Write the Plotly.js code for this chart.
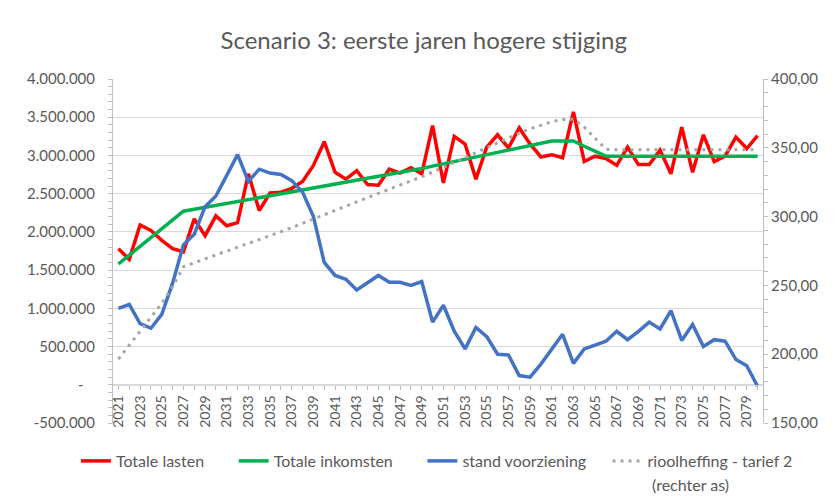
<!DOCTYPE html>
<html>
<head>
<meta charset="utf-8">
<script src="https://cdn.plot.ly/plotly-3.0.1.min.js"></script>
<style>html,body{margin:0;padding:0;background:#fff;}#chart{width:834px;height:504px;}</style>
</head>
<body>
<div id="chart"></div>
<script>
const years = [2021,2022,2023,2024,2025,2026,2027,2028,2029,2030,
  2031,2032,2033,2034,2035,2036,2037,2038,2039,2040,
  2041,2042,2043,2044,2045,2046,2047,2048,2049,2050,
  2051,2052,2053,2054,2055,2056,2057,2058,2059,2060,
  2061,2062,2063,2064,2065,2066,2067,2068,2069,2070,
  2071,2072,2073,2074,2075,2076,2077,2078,2079,2080];

const totaleLasten = [1780000,1640000,2090000,2020000,1890000,1780000,1740000,2170000,1950000,2210000,
  2080000,2120000,2760000,2280000,2510000,2520000,2570000,2660000,2870000,3180000,
  2780000,2690000,2800000,2620000,2610000,2820000,2770000,2840000,2760000,3390000,
  2640000,3250000,3150000,2690000,3110000,3270000,3100000,3360000,3150000,2980000,
  3010000,2970000,3570000,2920000,2990000,2960000,2870000,3110000,2880000,2880000,
  3070000,2760000,3370000,2780000,3270000,2920000,2990000,3240000,3090000,3260000];

const totaleInkomsten = [1580000,1695000,1810000,1925000,2040000,2155000,2270000,2295000,2320000,2345000,
  2370000,2395000,2420000,2445000,2470000,2495000,2520000,2545000,2570000,2595000,
  2620000,2645000,2670000,2695000,2720000,2745000,2770000,2800000,2830000,2860000,
  2890000,2920000,2950000,2980000,3010000,3040000,3070000,3100000,3130000,3160000,
  3190000,3190000,3190000,3120000,3050000,2990000,2990000,2990000,2990000,2990000,
  2990000,2990000,2990000,2990000,2990000,2990000,2990000,2990000,2990000,2990000];

const standVoorziening = [1000000,1050000,800000,740000,920000,1330000,1830000,1970000,2330000,2470000,
  2740000,3010000,2660000,2820000,2770000,2750000,2670000,2520000,2200000,1600000,
  1430000,1380000,1240000,1330000,1430000,1340000,1340000,1300000,1350000,820000,
  1040000,700000,470000,750000,630000,400000,390000,120000,100000,270000,
  460000,660000,280000,470000,520000,570000,700000,590000,700000,820000,
  730000,970000,580000,790000,500000,590000,570000,330000,250000,-20000];

const rioolheffing = [196.4,206.5,216.5,226.5,237.0,249.0,263.5,266.5,269.3,272.0,
  274.8,277.5,280.3,283.0,286.0,289.0,292.0,295.2,298.3,301.4,
  304.5,307.6,310.7,313.8,317.0,320.0,323.0,326.0,329.0,332.2,
  335.8,339.4,343.0,346.6,350.2,353.8,357.2,360.6,363.8,366.6,
  369.0,370.5,370.8,365.0,357.0,349.0,348.5,348.5,348.5,348.5,
  348.5,348.5,348.5,348.5,348.5,348.5,348.5,348.5,348.5,348.5];

const xTickVals = [2021,2023,2025,2027,2029,2031,2033,2035,2037,2039,2041,2043,2045,2047,2049,
  2051,2053,2055,2057,2059,2061,2063,2065,2067,2069,2071,2073,2075,2077,2079];
const leftTickVals = [-500000,0,500000,1000000,1500000,2000000,2500000,3000000,3500000,4000000];
const leftTickText = ['-500.000','-\u00a0\u00a0\u00a0','500.000','1.000.000','1.500.000','2.000.000','2.500.000','3.000.000','3.500.000','4.000.000'];
const rightTickVals = [150,200,250,300,350,400];
const rightTickText = ['150,00','200,00','250,00','300,00','350,00','400,00'];

const seriesNames = ['Totale lasten', 'Totale inkomsten', 'stand voorziening', 'rioolheffing - tarief 2'];
const legendNote = '(rechter as)';

const FONT = 'Lato, "Open Sans", sans-serif';
const TXT = '#595959';
const PAD = n => '\u00a0'.repeat(n);

const traces = [
  {x: years, y: totaleLasten, name: seriesNames[0] + PAD(6), type: 'scatter', mode: 'lines',
   line: {color: '#FF0000', width: 3.5}},
  {x: years, y: totaleInkomsten, name: seriesNames[1] + PAD(6), type: 'scatter', mode: 'lines',
   line: {color: '#00B050', width: 3.5}},
  {x: years, y: standVoorziening, name: seriesNames[2] + PAD(4), type: 'scatter', mode: 'lines',
   line: {color: '#4472C4', width: 3.5}},
  {x: years, y: rioolheffing, name: seriesNames[3], type: 'scatter', mode: 'lines',
   yaxis: 'y2', line: {color: '#A5A5A5', width: 3, dash: '3px,5px'}}
];

const layout = {
  width: 834, height: 504,
  margin: {l: 113, r: 71, t: 79, b: 81},
  paper_bgcolor: '#ffffff', plot_bgcolor: '#ffffff',
  font: {family: FONT, color: TXT, size: 14},
  title: {text: 'Scenario 3: eerste jaren hogere stijging', font: {family: FONT, size: 24, color: TXT},
          x: 0.508, xref: 'container', xanchor: 'center', y: 0.92, yref: 'container', yanchor: 'middle'},
  showlegend: true,
  legend: {orientation: 'h', x: -0.057, xanchor: 'left', y: -0.061, yanchor: 'top',
           font: {family: FONT, size: 16, color: TXT}, valign: 'top', bgcolor: 'rgba(0,0,0,0)'},
  annotations: [
    {text: legendNote, xref: 'paper', yref: 'paper', x: 0.826, y: -0.18, xanchor: 'left', yanchor: 'middle',
     showarrow: false, font: {family: FONT, size: 16, color: TXT}}
  ],
  xaxis: {
    type: 'linear', range: [2020.5, 2080.5], anchor: 'free', position: 0.1111,
    tickvals: xTickVals, tickangle: -90, ticks: 'outside', ticklen: 4, tickcolor: '#BFBFBF',
    minor: {dtick: 1, tick0: 2021, ticks: 'outside', ticklen: 4, tickcolor: '#BFBFBF', showgrid: false},
    showgrid: false, zeroline: false, showline: true, linecolor: '#D9D9D9', linewidth: 1,
    tickfont: {family: FONT, size: 14, color: TXT}, automargin: false, fixedrange: true
  },
  yaxis: {
    range: [-500000, 4000000], tickvals: leftTickVals, ticktext: leftTickText,
    showgrid: true, gridcolor: '#D9D9D9', gridwidth: 1, zeroline: false,
    showline: true, linecolor: '#BFBFBF', linewidth: 1,
    ticks: 'outside', ticklen: 4, tickcolor: '#BFBFBF', ticklabelstandoff: 10,
    minor: {dtick: 100000, tick0: 0, ticks: 'outside', ticklen: 4, tickcolor: '#BFBFBF', showgrid: false},
    tickfont: {family: FONT, size: 15, color: TXT}, automargin: false
  },
  yaxis2: {
    overlaying: 'y', side: 'right', range: [150, 400], tickvals: rightTickVals, ticktext: rightTickText,
    showgrid: false, zeroline: false, showline: true, linecolor: '#BFBFBF', linewidth: 1,
    ticks: 'outside', ticklen: 4, tickcolor: '#BFBFBF',
    minor: {dtick: 10, tick0: 150, ticks: 'outside', ticklen: 4, tickcolor: '#BFBFBF', showgrid: false},
    tickfont: {family: FONT, size: 15, color: TXT}, automargin: false
  }
};

Plotly.newPlot('chart', traces, layout, {displayModeBar: false, staticPlot: true});
</script>
</body>
</html>
